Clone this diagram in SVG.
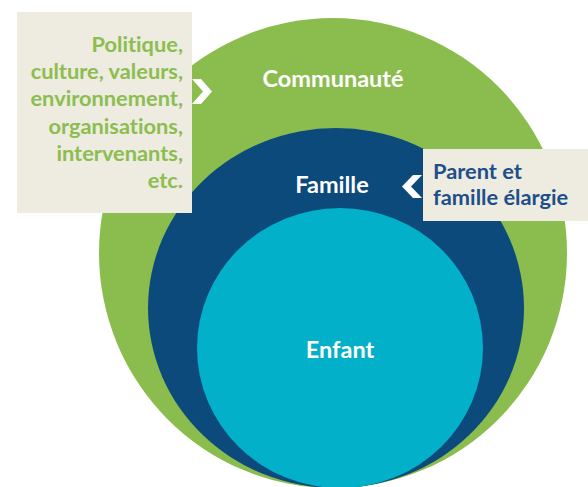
<svg xmlns="http://www.w3.org/2000/svg" width="588" height="487" viewBox="0 0 588 487">
  <style>
    text { font-family: Lato, "Open Sans", "Liberation Sans", sans-serif; font-weight: bold; font-variant-ligatures: none; }
    .w { fill: #ffffff; font-size: 23.5px; text-anchor: middle; }
    .g { fill: #8bbd4f; font-size: 21.8px; text-anchor: end; }
    .b { fill: #1d4f8a; font-size: 21.8px; }
    .box { fill: #eeebe1; }
    .chev { fill: #ffffff; }
  </style>
  <rect width="588" height="487" fill="#ffffff"/>
  <g id="communaute">
    <ellipse cx="333" cy="253" rx="234" ry="235" fill="#8bbd4e"/>
    <text class="w" x="333" y="87">Communauté</text>
  </g>
  <g id="famille">
    <ellipse cx="336" cy="308" rx="188" ry="180" fill="#0c4a7c"/>
    <text class="w" x="332" y="193">Famille</text>
  </g>
  <g id="enfant">
    <ellipse cx="340" cy="348" rx="143" ry="140" fill="#02b0c9"/>
    <text class="w" x="340" y="358">Enfant</text>
  </g>
  <g id="contexte">
    <rect class="box" x="17" y="12" width="175" height="201"/>
    <text class="g" x="183" y="52">Politique,</text>
    <text class="g" x="183" y="79">culture, valeurs,</text>
    <text class="g" x="183" y="106">environnement,</text>
    <text class="g" x="183" y="134">organisations,</text>
    <text class="g" x="183" y="161">intervenants,</text>
    <text class="g" x="183" y="188">etc.</text>
  </g>
  <g id="parent">
    <rect class="box" x="423" y="149" width="165" height="72"/>
    <text class="b" x="433" y="179">Parent et</text>
    <text class="b" x="433" y="205">famille élargie</text>
  </g>
  <g id="connectors">
    <polygon class="chev" points="192,79 201,79 212,91.5 201,104 192,104 203,91.5"/>
    <polygon class="chev" points="422,175 413,175 402,186.5 413,198 422,198 411,186.5"/>
  </g>
</svg>
